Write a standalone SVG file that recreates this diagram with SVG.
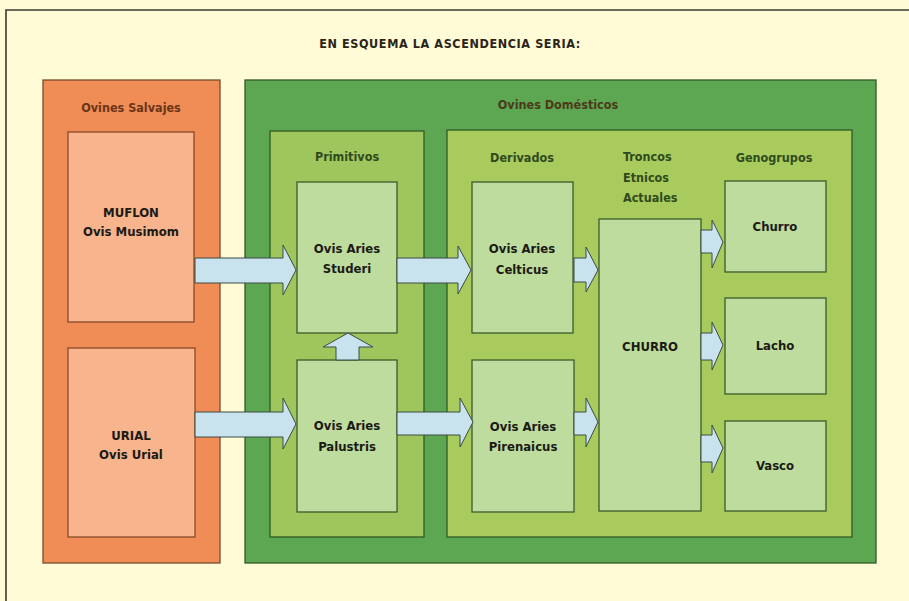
<svg xmlns="http://www.w3.org/2000/svg" width="909" height="601" viewBox="0 0 909 601">
<defs>
<style>
text{font-family:"Liberation Sans Narrow","DejaVu Sans Condensed","Liberation Sans",sans-serif;font-stretch:condensed;font-weight:bold;text-anchor:middle}
.t{font-size:13px;fill:#1c1a14}
.hdr{font-size:12.5px;fill:#2f4a1c}
.hs{font-size:12.5px;fill:#6a3518}
.ho{font-size:12.5px;fill:#4a3a1a}
.title{font-size:12.5px;fill:#2a2418;letter-spacing:0.6px}
.box{fill:#bddc9d;stroke:#3d5a2a;stroke-width:1.3}
.obox{fill:#f7b48d;stroke:#8a4a28;stroke-width:1.3}
.arr{fill:#c9e3ee;stroke:#3a4a44;stroke-width:1}
</style>
</defs>
<rect x="0" y="0" width="909" height="601" fill="#fefbd6"/>
<path d="M6 601 V10 H909" fill="none" stroke="#3a3a32" stroke-width="1.6"/>
<text class="title" x="450" y="48">EN ESQUEMA LA ASCENDENCIA SERIA:</text>

<g id="salvajes">
<rect x="43" y="80" width="177" height="483" fill="#f08c55" stroke="#7a4a2a" stroke-width="1.3"/>
<text class="hs" x="131" y="112">Ovines Salvajes</text>
</g>
<g id="muflon">
<rect class="obox" x="68" y="132" width="126" height="190"/>
<text class="t" x="131" y="217" fill="#5a2a14">MUFLON</text>
<text class="t" x="131" y="236">Ovis Musimom</text>
</g>
<g id="urial">
<rect class="obox" x="68" y="348" width="127" height="189"/>
<text class="t" x="131" y="440">URIAL</text>
<text class="t" x="131" y="459">Ovis Urial</text>
</g>

<g id="domesticos">
<rect x="245" y="80" width="631" height="483" fill="#5ea752" stroke="#2f5a26" stroke-width="1.3"/>
<text class="ho" x="558" y="109">Ovines Domésticos</text>
</g>
<g id="primitivos">
<rect x="270" y="131" width="154" height="406" fill="#9fc65c" stroke="#2f5a26" stroke-width="1.3"/>
<text class="hdr" x="347" y="161">Primitivos</text>
</g>
<g id="derivados-panel">
<rect x="447" y="130" width="405" height="407" fill="#a9cb5e" stroke="#2f5a26" stroke-width="1.3"/>
<text class="hdr" x="522" y="162">Derivados</text>
<text class="hdr" x="623" y="161" style="text-anchor:start">Troncos</text>
<text class="hdr" x="623" y="182" style="text-anchor:start">Etnicos</text>
<text class="hdr" x="623" y="202" style="text-anchor:start">Actuales</text>
<text class="hdr" x="774" y="162">Genogrupos</text>
</g>

<g id="studeri">
<rect class="box" x="297" y="182" width="100" height="151"/>
<text class="t" x="347" y="253">Ovis Aries</text>
<text class="t" x="347" y="273">Studeri</text>
</g>
<g id="palustris">
<rect class="box" x="297" y="360" width="100" height="152"/>
<text class="t" x="347" y="430">Ovis Aries</text>
<text class="t" x="347" y="451">Palustris</text>
</g>
<g id="celticus">
<rect class="box" x="472" y="182" width="101" height="151"/>
<text class="t" x="522" y="253">Ovis Aries</text>
<text class="t" x="522" y="274">Celticus</text>
</g>
<g id="pirenaicus">
<rect class="box" x="472" y="360" width="102" height="152"/>
<text class="t" x="523" y="431">Ovis Aries</text>
<text class="t" x="523" y="451">Pirenaicus</text>
</g>
<g id="churro-tronco">
<rect class="box" x="599" y="219" width="102" height="292"/>
<text class="t" x="650" y="351" fill="#2a4a24">CHURRO</text>
</g>
<g id="churro">
<rect class="box" x="725" y="181" width="101" height="91"/>
<text class="t" x="775" y="231">Churro</text>
</g>
<g id="lacho">
<rect class="box" x="725" y="298" width="101" height="96"/>
<text class="t" x="775" y="350">Lacho</text>
</g>
<g id="vasco">
<rect class="box" x="725" y="421" width="101" height="90"/>
<text class="t" x="775" y="470">Vasco</text>
</g>

<g id="connectors">
<polygon class="arr" points="195,258 283,258 283,245 296,270 283,295 283,283 195,283"/>
<polygon class="arr" points="195,412 283,412 283,398 296,424 283,449 283,437 195,437"/>
<polygon class="arr" points="397,258 458,258 458,246 471,270 458,294 458,283 397,283"/>
<polygon class="arr" points="397,412 460,412 460,398 473,422 460,447 460,435 397,435"/>
<polygon class="arr" points="336,360 336,347 323,347 348,333 373,347 359,347 359,360"/>
<polygon class="arr" points="574,258 586,258 586,247 598,270 586,292 586,282 574,282"/>
<polygon class="arr" points="574,412 586,412 586,398 598,422 586,447 586,435 574,435"/>
<polygon class="arr" points="701,230 712,230 712,220 723,242 712,268 712,253 701,253"/>
<polygon class="arr" points="701,333 712,333 712,322 723,345 712,370 712,360 701,360"/>
<polygon class="arr" points="701,435 712,435 712,425 723,448 712,473 712,462 701,462"/>
</g>
</svg>
